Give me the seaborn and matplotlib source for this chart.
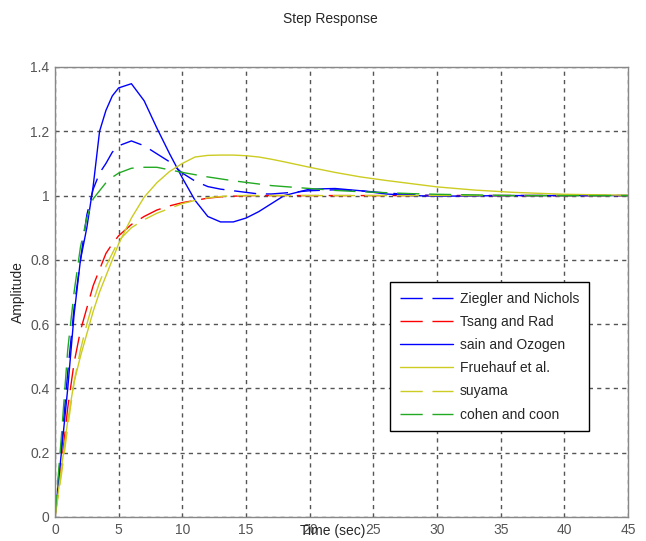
import numpy as np
import pandas as pd
import seaborn as sns
import matplotlib.pyplot as plt
from matplotlib.ticker import FormatStrFormatter

# time axis (sec)
t = [0, 0.5, 1, 1.5, 2, 2.5, 3, 3.5, 4, 4.5, 5, 6, 7, 8, 9, 10, 11, 12, 13, 14, 15,
     16, 17, 18, 20, 22, 24, 26, 28, 30, 33, 36, 40, 45]

ziegler = [0, 0.22, 0.45, 0.65, 0.8, 0.94, 1.02, 1.07, 1.10, 1.135, 1.155, 1.17, 1.155, 1.13, 1.105,
           1.07, 1.045, 1.028, 1.02, 1.015, 1.01, 1.005, 1.005, 1.008, 1.015, 1.018, 1.015, 1.008,
           1.003, 1.0, 1.0, 1.0, 1.0, 1.0]
tsang = [0, 0.16, 0.34, 0.48, 0.58, 0.65, 0.72, 0.77, 0.82, 0.85, 0.875, 0.91, 0.935, 0.955, 0.968,
         0.978, 0.985, 0.992, 0.996, 0.998, 1.0, 1.0, 1.0, 1.0, 1.0, 1.0, 1.0, 1.0, 1.0, 1.0, 1.0,
         1.0, 1.0, 1.0]
sain = [0, 0.2, 0.4, 0.63, 0.8, 0.9, 1.03, 1.2, 1.265, 1.31, 1.335, 1.348, 1.295, 1.21, 1.13,
        1.055, 0.985, 0.935, 0.918, 0.918, 0.93, 0.95, 0.975, 1.0, 1.02, 1.022, 1.015, 1.005, 1.0,
        0.998, 0.999, 1.0, 1.0, 1.0]
fruehauf = [0, 0.15, 0.3, 0.42, 0.5, 0.57, 0.64, 0.7, 0.75, 0.80, 0.85, 0.93, 0.995, 1.04, 1.075,
            1.1, 1.12, 1.125, 1.126, 1.126, 1.124, 1.12, 1.113, 1.105, 1.088, 1.072, 1.058, 1.047,
            1.037, 1.027, 1.017, 1.01, 1.004, 1.001]
suyama = [0, 0.13, 0.28, 0.42, 0.52, 0.6, 0.67, 0.73, 0.78, 0.82, 0.86, 0.9, 0.925, 0.945, 0.96,
          0.975, 0.985, 0.993, 0.997, 1.0, 1.0, 1.0, 1.0, 1.0, 1.0, 1.0, 1.0, 1.0, 1.0, 1.0, 1.0,
          1.0, 1.0, 1.0]
cohen = [0, 0.25, 0.52, 0.7, 0.84, 0.93, 0.99, 1.015, 1.04, 1.057, 1.07, 1.085, 1.088, 1.088, 1.08,
         1.072, 1.065, 1.058, 1.052, 1.046, 1.041, 1.036, 1.031, 1.028, 1.022, 1.016, 1.012, 1.009,
         1.006, 1.004, 1.002, 1.0, 1.0, 1.0]

names = ["Ziegler and Nichols", "Tsang and Rad", "sain and Ozogen",
         "Fruehauf et al.", "suyama", "cohen and coon"]
series = [ziegler, tsang, sain, fruehauf, suyama, cohen]
colors = ["#0000ff", "#ff0000", "#0000ff", "#cccc22", "#cccc22", "#22aa22"]
dashed = [True, True, False, False, True, True]

records = []
for name, vals in zip(names, series):
    for ti, v in zip(t, vals):
        records.append({"Time": ti, "Amplitude": v, "Method": name})
df = pd.DataFrame(records)

sns.set_style("white")
plt.rcParams['font.family'] = ['Liberation Sans', 'DejaVu Sans']

fig = plt.figure(figsize=(6.46, 5.41), dpi=100)
ax = fig.add_axes([55 / 646, 24 / 541, 573 / 646, 450 / 541])

palette = dict(zip(names, colors))
dash_map = {n: ((16, 7) if d else "") for n, d in zip(names, dashed)}
sns.lineplot(data=df, x="Time", y="Amplitude", hue="Method", style="Method",
             hue_order=names, style_order=names, palette=palette, dashes=dash_map,
             linewidth=1.0, ax=ax)

ax.set_xlim(0, 45)
ax.set_ylim(0, 1.4)
ax.set_xticks(np.arange(0, 46, 5))
ax.set_yticks(np.arange(0, 1.41, 0.2))
ax.yaxis.set_major_formatter(FormatStrFormatter('%g'))
ax.grid(True, color="#555555", linestyle=(0, (3, 3)), linewidth=1.0)
for s in ax.spines.values():
    s.set_color("#888888")
    s.set_linewidth(1.0)
ax.tick_params(labelsize=10, colors="#666666", direction="in", length=0, pad=4)
ax.tick_params(labelcolor="#555555")

# MATLAB puts the x label right on the tick row, keep it there
ax.set_xlabel("Time (sec)", fontsize=10)
ax.xaxis.set_label_coords((333 - 55) / 573, -7 / 450)
ax.set_ylabel("Amplitude", fontsize=10, labelpad=4)
fig.text(0.512, 0.965, "Step Response", ha="center", va="center", fontsize=10)

handles, labels = ax.get_legend_handles_labels()
leg = ax.legend(handles, labels, loc="upper left", bbox_to_anchor=(0.585, 0.522),
                borderaxespad=0, fontsize=10, handlelength=3.8, handletextpad=0.5,
                labelspacing=0.66, borderpad=0.7, fancybox=False, framealpha=1)
leg.get_frame().set_edgecolor("black")
leg.get_frame().set_linewidth(1.0)

plt.savefig("out.png", dpi=100)
